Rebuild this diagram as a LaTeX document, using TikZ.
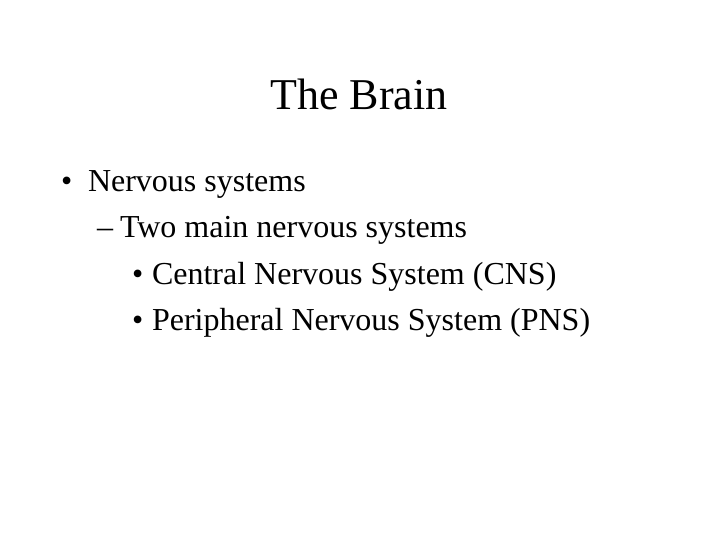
\documentclass[tikz,border=0pt]{standalone}
\usepackage{fontspec}
\setmainfont{Liberation Serif}
\usepackage{tikz}
\usetikzlibrary{positioning}

\begin{document}
\begin{tikzpicture}[x=1pt,y=-1pt,
    slidetext/.style={anchor=base west,inner sep=0pt,outer sep=0pt,font=\fontsize{32}{36}\selectfont}]
        % page
        \useasboundingbox (0,0) rectangle (720,540);
        % title
        \node[anchor=base,inner sep=0pt] (title) at (359,110) {\fontsize{44}{50}\selectfont The Brain};
        % first level
        \node[slidetext] (b1) at (61,192) {\textbullet};
        \node[slidetext] (l1) at (88,192) {Nervous systems};
        % second level
        \node[slidetext] (b2) at (97,237) {\textendash};
        \node[slidetext] (l2) at (120,237) {Two main nervous systems};
        % third level
        \node[slidetext] (b3) at (132,284) {\textbullet};
        \node[slidetext] (l3) at (152,284) {Central Nervous System (CNS)};
        \node[slidetext] (b4) at (132,330) {\textbullet};
        \node[slidetext] (l4) at (152,330) {Peripheral Nervous System (PNS)};
\end{tikzpicture}
\end{document}
